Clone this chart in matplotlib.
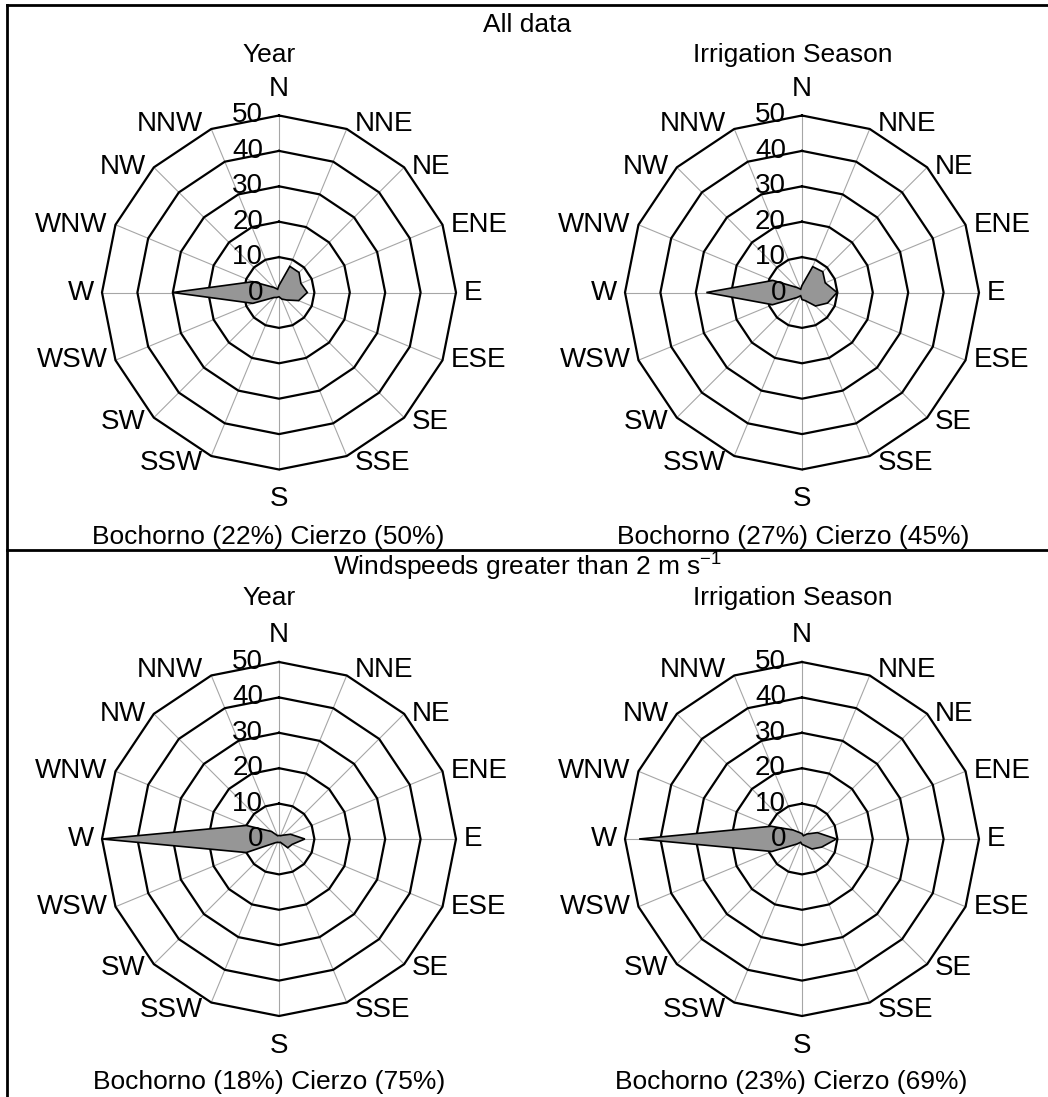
import numpy as np
import matplotlib.pyplot as plt

plt.rcParams['font.family'] = ['Liberation Sans', 'DejaVu Sans']
plt.rcParams['mathtext.fontset'] = 'custom'
plt.rcParams['mathtext.rm'] = 'Liberation Sans'
plt.rcParams['mathtext.it'] = 'Liberation Sans'

# wind direction frequency (%) per 16 compass sectors
directions = ['N', 'NNE', 'NE', 'ENE', 'E', 'ESE', 'SE', 'SSE',
              'S', 'SSW', 'SW', 'WSW', 'W', 'WNW', 'NW', 'NNW']

all_year = [2, 8, 8, 6.7, 8, 6, 3, 2, 1.2, 1.5, 2, 8, 30, 8, 2, 1]
all_irrig = [2, 7.9, 8.3, 7.1, 9.9, 7.8, 5.4, 2.5, 2, 1, 2, 9, 27, 8.9, 2, 1]
fast_year = [1, 1, 1.5, 3.5, 7.3, 4, 3.5, 1, 1, 1, 1.5, 10, 50, 10, 3, 1]
fast_irrig = [1.5, 1, 2, 4.7, 9.7, 6, 4, 2, 1.5, 1, 2, 9.2, 46, 9.4, 3.6, 2]

captions = ['Bochorno (22%) Cierzo (50%)', 'Bochorno (27%) Cierzo (45%)',
            'Bochorno (18%) Cierzo (75%)', 'Bochorno (23%) Cierzo (69%)']
subtitles = ['Year', 'Irrigation Season', 'Year', 'Irrigation Season']
rings = [10, 20, 30, 40, 50]

W, H = 1048, 1097
fig = plt.figure(figsize=(W / 100, H / 100), dpi=100)

R_PX = 177.0          # pixel radius of the 50 ring
HALF = 235.0          # half size of each axes box in pixels
U = 50.0 / R_PX       # data units per pixel


def fx(x):
    return x / W


def fy(y):
    return 1 - y / H


def radar(cx, cy, values):
    ax = fig.add_axes([fx(cx - HALF), fy(cy + HALF), 2 * HALF / W, 2 * HALF / H])
    lim = HALF * U
    ax.set_xlim(-lim, lim)
    ax.set_ylim(-lim, lim)
    ax.axis('off')

    theta = np.deg2rad(np.arange(16) * 22.5)
    sx, sy = np.sin(theta), np.cos(theta)

    # spokes
    for i in range(16):
        ax.plot([0, 50 * sx[i]], [0, 50 * sy[i]], color='#a6a6a6', lw=0.8, zorder=1)
    # rings
    for r in rings:
        ax.plot(np.append(r * sx, r * sx[0]), np.append(r * sy, r * sy[0]),
                color='black', lw=1.6, zorder=2)
    # data polygon
    v = np.array(values)
    ax.fill(v * sx, v * sy, facecolor='#969696', edgecolor='black', lw=1.2, zorder=3)

    # radial value labels along the north spoke
    for r in [0] + rings:
        ax.text(-16 * U, r, str(r), ha='right', va='center', fontsize=20, zorder=4)

    # compass labels
    for i, d in enumerate(directions):
        px, py = 50 * sx[i], 50 * sy[i]
        if d == 'N':
            ax.text(0, 50 + 27 * U, d, ha='center', va='center', fontsize=20)
        elif d == 'S':
            ax.text(0, -50 - 30 * U, d, ha='center', va='center', fontsize=20)
        else:
            ha = 'left' if sx[i] > 0 else 'right'
            dy = 0
            if d in ('NNE', 'NNW'):
                dy = 5
            elif d in ('SSE', 'SSW'):
                dy = -7
            elif d in ('SE', 'SW'):
                dy = -4
            ax.text(px + np.sign(sx[i]) * 8 * U, py + dy * U, d,
                    ha=ha, va='center', fontsize=20)
    return ax


centers = [(279, 292.5), (802, 292.5), (279, 839), (802, 839)]
series = [all_year, all_irrig, fast_year, fast_irrig]
for (cx, cy), vals in zip(centers, series):
    radar(cx, cy, vals)

# section titles, subtitles and captions
fig.text(fx(527), fy(25), 'All data', ha='center', va='center', fontsize=19)
fig.text(fx(527), fy(567), r'Windspeeds greater than 2 m s$^{-1}$',
         ha='center', va='center', fontsize=19)
sub_pos = [(269, 55), (793, 55), (269, 598), (793, 598)]
cap_pos = [(268, 537), (793, 537), (269, 1082), (791, 1082)]
for s, (x, y) in zip(subtitles, sub_pos):
    fig.text(fx(x), fy(y), s, ha='center', va='center', fontsize=19)
for c, (x, y) in zip(captions, cap_pos):
    fig.text(fx(x), fy(y), c, ha='center', va='center', fontsize=19)

# frame lines
for xs, ys in [([7, W], [5, 5]), ([7, 7], [5, H]), ([7, W], [550, 550])]:
    fig.add_artist(plt.Line2D([fx(x) for x in xs], [fy(y) for y in ys],
                              color='black', lw=2, transform=fig.transFigure))

fig.savefig('out.png', dpi=100, facecolor='white')
